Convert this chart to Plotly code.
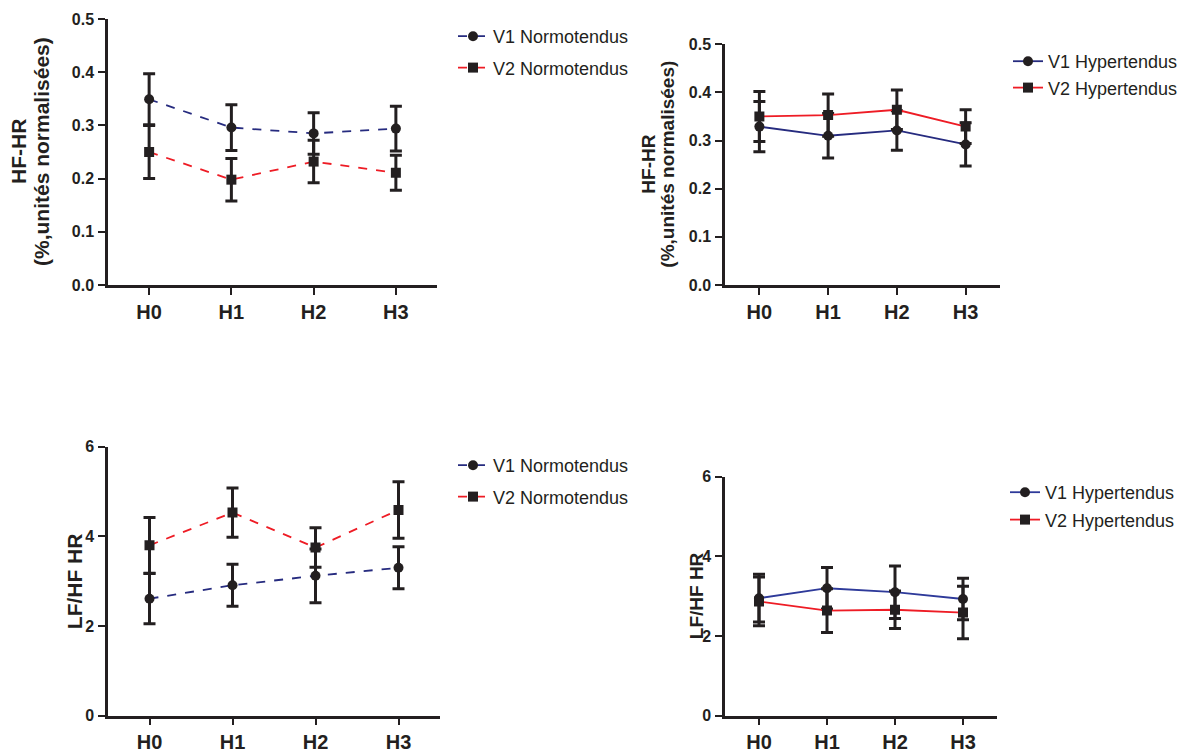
import plotly.graph_objects as go

W, H = 1203, 754

categories = ["H0", "H1", "H2", "H3"]

# Panel 1: HF-HR normotendus
hf_norm_v1 = [0.349, 0.296, 0.285, 0.294]
hf_norm_v1_err = [0.048, 0.043, 0.039, 0.042]
hf_norm_v2 = [0.250, 0.198, 0.232, 0.211]
hf_norm_v2_err = [0.050, 0.040, 0.040, 0.033]

# Panel 2: HF-HR hypertendus
hf_hyp_v1 = [0.329, 0.310, 0.321, 0.292]
hf_hyp_v1_err = [0.052, 0.046, 0.041, 0.045]
hf_hyp_v2 = [0.350, 0.353, 0.364, 0.329]
hf_hyp_v2_err = [0.052, 0.044, 0.041, 0.035]

# Panel 3: LF/HF normotendus
lfhf_norm_v1 = [2.61, 2.91, 3.12, 3.30]
lfhf_norm_v1_err = [0.56, 0.47, 0.60, 0.47]
lfhf_norm_v2 = [3.80, 4.53, 3.75, 4.59]
lfhf_norm_v2_err = [0.62, 0.55, 0.44, 0.63]

# Panel 4: LF/HF hypertendus
lfhf_hyp_v1 = [2.95, 3.20, 3.10, 2.93]
lfhf_hyp_v1_err = [0.60, 0.52, 0.66, 0.52]
lfhf_hyp_v2 = [2.87, 2.64, 2.66, 2.59]
lfhf_hyp_v2_err = [0.61, 0.55, 0.47, 0.66]

NAVY = "#262b7f"
BLUE = "#2e3a9a"
RED = "#ee1c25"
INK = "#231f20"
SANS = "Liberation Sans, Arial, sans-serif"

xpos = list(range(len(categories)))


def px_x(p):
    return p / W


def px_y(p):
    return (H - p) / H


panels = [
    dict(ax="", x0=108, x1=437, yb=285, yt=19, yr=[0, 0.5], dt=0.1, fmt=".1f",
         legend="legend", lx=453, ly=18, gap=5, tx=[18, 41], tsize=21,
         title=["HF-HR", "(%,unités normalisées)"], dash="dash",
         v1=(hf_norm_v1, hf_norm_v1_err), v2=(hf_norm_v2, hf_norm_v2_err),
         n1="V1 Normotendus", n2="V2 Normotendus", c1=NAVY),
    dict(ax="2", x0=725, x1=1000, yb=285, yt=44.3, yr=[0, 0.5], dt=0.1, fmt=".1f",
         legend="legend2", lx=1008, ly=43, gap=0, tx=[649, 668], tsize=19,
         title=["HF-HR", "(%,unités normalisées)"], dash="solid",
         v1=(hf_hyp_v1, hf_hyp_v1_err), v2=(hf_hyp_v2, hf_hyp_v2_err),
         n1="V1 Hypertendus", n2="V2 Hypertendus", c1=NAVY),
    dict(ax="3", x0=108, x1=440, yb=715.7, yt=446.7, yr=[0, 6], dt=2, fmt="d",
         legend="legend3", lx=453, ly=447, gap=5, tx=[74], tsize=21,
         title=["LF/HF HR"], dash="dash",
         v1=(lfhf_norm_v1, lfhf_norm_v1_err), v2=(lfhf_norm_v2, lfhf_norm_v2_err),
         n1="V1 Normotendus", n2="V2 Normotendus", c1=NAVY),
    dict(ax="4", x0=725, x1=997, yb=715.7, yt=476.7, yr=[0, 6], dt=2, fmt="d",
         legend="legend4", lx=1005, ly=474, gap=1, tx=[696], tsize=19,
         title=["LF/HF HR"], dash="solid",
         v1=(lfhf_hyp_v1, lfhf_hyp_v1_err), v2=(lfhf_hyp_v2, lfhf_hyp_v2_err),
         n1="V1 Hypertendus", n2="V2 Hypertendus", c1=BLUE),
]

fig = go.Figure()
layout = dict(
    width=W, height=H, margin=dict(l=0, r=0, t=0, b=0, autoexpand=False),
    paper_bgcolor="white", plot_bgcolor="white", showlegend=True,
    annotations=[],
)

for i, p in enumerate(panels):
    ax = p["ax"]
    xa, ya = "x" + ax, "y" + ax
    for j, ((vals, errs), name, color, sym) in enumerate([
        (p["v1"], p["n1"], p["c1"], "circle"),
        (p["v2"], p["n2"], RED, "square"),
    ]):
        fig.add_trace(go.Scatter(
            x=xpos, y=vals, name=name, mode="lines+markers",
            xaxis=xa, yaxis=ya, legend=p["legend"], legendgroup=f"g{i}{j}",
            line=dict(color=color, width=1.8, dash="dash" if p["dash"] == "dash" else "solid"),
            marker=dict(symbol=sym, size=10, color=INK),
            error_y=dict(type="data", array=errs, visible=True, color=INK,
                         thickness=3, width=6),
        ))
    axis_common = dict(
        showgrid=False, zeroline=False, showline=True, linecolor=INK, linewidth=2.5,
        ticks="outside", tickcolor=INK, tickwidth=2, ticklen=7, automargin=False,
    )
    layout["xaxis" + ax] = dict(
        axis_common, domain=[px_x(p["x0"]), px_x(p["x1"])],
        range=[-0.5, 3.5], tickmode="array", tickvals=xpos, ticktext=categories,
        tickfont=dict(family=SANS, size=20, color=INK, weight="bold"),
        anchor=ya, ticklabelstandoff=0,
    )
    layout["yaxis" + ax] = dict(
        axis_common, domain=[px_y(p["yb"]), px_y(p["yt"])],
        range=p["yr"], dtick=p["dt"], tick0=0, tickformat=p["fmt"],
        tickfont=dict(family=SANS, size=16, color=INK, weight="bold"),
        anchor=xa, ticklabelstandoff=1,
    )
    layout[p["legend"]] = dict(
        x=px_x(p["lx"]), y=px_y(p["ly"]), xanchor="left", yanchor="top",
        font=dict(family=SANS, size=18, color=INK),
        bgcolor="rgba(0,0,0,0)", borderwidth=0, itemclick=False,
        tracegroupgap=p["gap"],
    )
    cy = (p["yb"] + p["yt"]) / 2
    for line_text, tx in zip(p["title"], p["tx"]):
        layout["annotations"].append(dict(
            text="<b>" + line_text + "</b>", textangle=-90,
            x=px_x(tx), y=px_y(cy), xref="paper", yref="paper",
            xanchor="center", yanchor="middle", showarrow=False,
            font=dict(family=SANS, size=p["tsize"], color=INK),
        ))

fig.update_layout(**layout)
fig.write_html(
    "out.html",
    config={"displayModeBar": False},
    post_script="document.body.style.margin='0';document.body.style.padding='0';",
)
